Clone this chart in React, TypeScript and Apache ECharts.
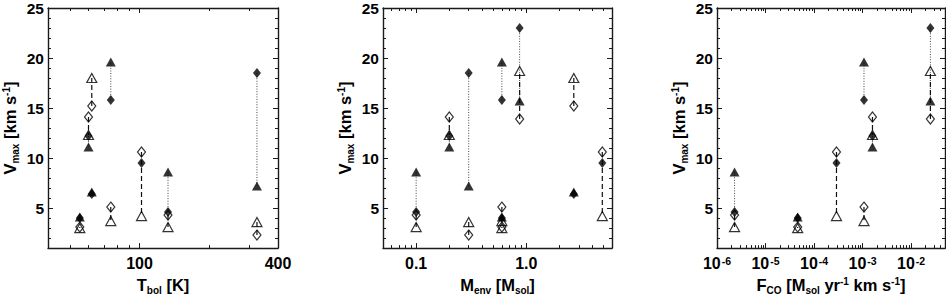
import React, { useEffect, useRef } from 'react';
import * as echarts from 'echarts';

// Eight sources; null = not measured / not shown in that panel
const tbol: (number | null)[] = [55, 60, 62, 75, 102, 133, 324, null];
const menv: (number | null)[] = [0.6, 0.2, 2.7, 0.6, 4.9, 0.1, 0.3, 0.87];
const fco: (number | null)[] = [4.6e-5, 1.6e-3, null, 1.07e-3, 2.9e-4, 2.3e-6, null, 0.025];

const filledDiamond: (number | null)[] = [4.0, 12.2, 6.4, 15.8, 9.5, 4.6, 18.5, 23.0];
const filledTriangle: (number | null)[] = [4.1, 11.1, 6.6, 19.6, null, 8.6, 7.2, 15.7];
const openDiamond: (number | null)[] = [3.1, 14.1, 15.2, 5.1, 10.6, 4.3, 2.3, 13.9];
const openTriangle: (number | null)[] = [3.0, 12.3, 18.0, 3.7, 4.2, 3.1, 3.6, 18.7];

const yMajorTicks = [5, 10, 15, 20, 25];
const yMinorTicks = [2, 3, 4, 6, 7, 8, 9, 11, 12, 13, 14, 16, 17, 18, 19, 21, 22, 23, 24];

const tbolMajorTicks = [100, 400];
const tbolMinorTicks = [50, 60, 70, 80, 90, 200, 300];
const menvMajorTicks = [0.1, 1.0];
const menvMinorTicks = [0.06, 0.07, 0.08, 0.09, 0.2, 0.3, 0.4, 0.5, 0.6, 0.7, 0.8, 0.9, 2, 3, 4, 5, 6];
const fcoMajorTicks = [1e-6, 1e-5, 1e-4, 1e-3, 1e-2];
const fcoMinorTicks: number[] = [];
for (const dec of [1e-6, 1e-5, 1e-4, 1e-3, 1e-2]) {
  for (let m = 2; m <= 9; m++) {
    const v = m * dec;
    if (v <= 0.05 + 1e-12) fcoMinorTicks.push(v);
  }
}

const FONT = '"Liberation Sans", Arial, Helvetica, sans-serif';
const AXIS_COLOR = '#1a1a1a';

const richTitle = {
  n: { fontSize: 16.5, fontWeight: 'bold', fontFamily: FONT, color: '#000' },
  sub: { fontSize: 10, fontWeight: 'bold', fontFamily: FONT, color: '#000', verticalAlign: 'bottom', padding: [0, 0, -2, 0] },
  sup: { fontSize: 10, fontWeight: 'bold', fontFamily: FONT, color: '#000', verticalAlign: 'top' },
};

const richLabel = {
  b: { fontSize: 16, fontWeight: 'bold', fontFamily: FONT, color: '#000' },
  s: { fontSize: 10.5, fontWeight: 'bold', fontFamily: FONT, color: '#000', verticalAlign: 'top', padding: [0, 0, 4, 1] },
};

const panels = [
  {
    x: tbol, min: 40, max: 400, major: tbolMajorTicks, minor: tbolMinorTicks,
    fmt: (v: number) => `{b|${Math.round(v)}}`,
    name: '{n|T}{sub|bol}{n| [K]}', left: 47, width: 231,
  },
  {
    x: menv, min: 0.05, max: 6, major: menvMajorTicks, minor: menvMinorTicks,
    fmt: (v: number) => `{b|${v.toFixed(1)}}`,
    name: '{n|M}{sub|env}{n| [M}{sub|sol}{n|]}', left: 383, width: 229,
  },
  {
    x: fco, min: 1e-6, max: 0.05, major: fcoMajorTicks, minor: fcoMinorTicks,
    fmt: (v: number) => `{b|10}{s|${Math.round(Math.log10(v))}}`,
    name: '{n|F}{sub|CO}{n| [M}{sub|sol}{n| yr}{sup|-1}{n| km s}{sup|-1}{n|]}', left: 717, width: 228,
  },
];

function buildOption() {
  const grid: any[] = [];
  const xAxis: any[] = [];
  const yAxis: any[] = [];
  const series: any[] = [];

  panels.forEach((p, i) => {
    grid.push({ left: p.left, top: 2, width: p.width, height: 257, containLabel: false });
    const xBase = {
      type: 'log', logBase: 10, min: p.min, max: p.max, gridIndex: i,
      splitLine: { show: false }, axisPointer: { show: false },
    };
    const lineOn = { show: true, onZero: false, lineStyle: { color: AXIS_COLOR, width: 1.4 } };
    const lineOff = { show: false };
    xAxis.push({
      ...xBase, position: 'bottom', axisLine: lineOn,
      axisTick: { show: true, inside: true, length: 5, customValues: p.major, lineStyle: { color: AXIS_COLOR, width: 1 } },
      axisLabel: { show: true, customValues: p.major, margin: 7, formatter: p.fmt, rich: richLabel, hideOverlap: false, showMaxLabel: true, showMinLabel: true },
      name: p.name, nameLocation: 'middle', nameGap: 27,
      nameTextStyle: { rich: richTitle },
    });
    xAxis.push({
      ...xBase, position: 'bottom', axisLine: lineOff,
      axisTick: { show: true, inside: true, length: 3, customValues: p.minor, lineStyle: { color: AXIS_COLOR, width: 1 } },
      axisLabel: { show: false },
    });
    xAxis.push({
      ...xBase, position: 'top', axisLine: lineOn,
      axisTick: { show: true, inside: true, length: 5, customValues: p.major, lineStyle: { color: AXIS_COLOR, width: 1 } },
      axisLabel: { show: false },
    });
    xAxis.push({
      ...xBase, position: 'top', axisLine: lineOff,
      axisTick: { show: true, inside: true, length: 3, customValues: p.minor, lineStyle: { color: AXIS_COLOR, width: 1 } },
      axisLabel: { show: false },
    });

    const yBase = {
      type: 'value', min: 1, max: 25, gridIndex: i,
      splitLine: { show: false }, axisPointer: { show: false },
    };
    yAxis.push({
      ...yBase, position: 'left', axisLine: lineOn,
      axisTick: { show: true, inside: true, length: 5, customValues: yMajorTicks, lineStyle: { color: AXIS_COLOR, width: 1 } },
      axisLabel: { show: true, customValues: yMajorTicks, margin: 4, fontSize: 15.5, fontWeight: 'bold', fontFamily: FONT, color: '#000' },
      name: '{n|V}{sub|max}{n| [km s}{sup|-1}{n|]}', nameLocation: 'middle', nameGap: 30, nameRotate: 90,
      nameTextStyle: { rich: richTitle },
    });
    yAxis.push({
      ...yBase, position: 'left', axisLine: lineOff,
      axisTick: { show: true, inside: true, length: 3, customValues: yMinorTicks, lineStyle: { color: AXIS_COLOR, width: 1 } },
      axisLabel: { show: false },
    });
    yAxis.push({
      ...yBase, position: 'right', axisLine: lineOn,
      axisTick: { show: true, inside: true, length: 5, customValues: yMajorTicks, lineStyle: { color: AXIS_COLOR, width: 1 } },
      axisLabel: { show: false },
    });
    yAxis.push({
      ...yBase, position: 'right', axisLine: lineOff,
      axisTick: { show: true, inside: true, length: 3, customValues: yMinorTicks, lineStyle: { color: AXIS_COLOR, width: 1 } },
      axisLabel: { show: false },
    });

    const xi = i * 4;
    const yi = i * 4;

    const pairs = (a: (number | null)[], b: (number | null)[]) => {
      const out: number[][] = [];
      p.x.forEach((xv, k) => {
        if (xv != null && a[k] != null && b[k] != null) out.push([xv, a[k] as number, b[k] as number]);
      });
      return out;
    };
    const pts = (a: (number | null)[]) => {
      const out: number[][] = [];
      p.x.forEach((xv, k) => {
        if (xv != null && a[k] != null) out.push([xv, a[k] as number]);
      });
      return out;
    };
    const segRender = (dash: number[], color: string, w: number) => (params: any, api: any) => {
      const p1 = api.coord([api.value(0), api.value(1)]);
      const p2 = api.coord([api.value(0), api.value(2)]);
      return {
        type: 'line',
        shape: { x1: p1[0], y1: p1[1], x2: p2[0], y2: p2[1] },
        style: { stroke: color, lineWidth: w, lineDash: dash, fill: null },
      };
    };

    series.push({
      type: 'custom', xAxisIndex: xi, yAxisIndex: yi, z: 1, silent: true,
      encode: { x: 0, y: [1, 2] },
      data: pairs(filledDiamond, filledTriangle),
      renderItem: segRender([1, 1.6], '#444', 1),
    });
    series.push({
      type: 'custom', xAxisIndex: xi, yAxisIndex: yi, z: 1, silent: true,
      encode: { x: 0, y: [1, 2] },
      data: pairs(openDiamond, openTriangle),
      renderItem: segRender([5, 3], '#111', 1.2),
    });
    const openStyle = { color: 'rgba(0,0,0,0)', borderColor: '#000', borderWidth: 1.2 };
    const filledStyle = { color: '#000', borderColor: '#000', borderWidth: 0 };
    series.push({
      type: 'scatter', xAxisIndex: xi, yAxisIndex: yi, z: 3, silent: true,
      symbol: 'triangle', symbolSize: [10, 9], itemStyle: openStyle, data: pts(openTriangle),
    });
    series.push({
      type: 'scatter', xAxisIndex: xi, yAxisIndex: yi, z: 3, silent: true,
      symbol: 'diamond', symbolSize: [8, 10], itemStyle: openStyle, data: pts(openDiamond),
    });
    series.push({
      type: 'scatter', xAxisIndex: xi, yAxisIndex: yi, z: 4, silent: true,
      symbol: 'triangle', symbolSize: [10, 9], itemStyle: filledStyle, data: pts(filledTriangle),
    });
    series.push({
      type: 'scatter', xAxisIndex: xi, yAxisIndex: yi, z: 4, silent: true,
      symbol: 'diamond', symbolSize: [8, 10], itemStyle: filledStyle, data: pts(filledDiamond),
    });
  });

  return {
    animation: false,
    backgroundColor: '#ffffff',
    textStyle: { fontFamily: FONT },
    grid, xAxis, yAxis, series,
  };
}

export default function App() {
  const ref = useRef<HTMLDivElement>(null);
  useEffect(() => {
    if (!ref.current) return;
    const chart = echarts.init(ref.current, undefined, { renderer: 'svg' });
    chart.setOption(buildOption() as any);
    return () => chart.dispose();
  }, []);
  return (
    <div
      ref={ref}
      style={{ position: 'absolute', left: 0, top: 0, width: 946, height: 300, background: '#fff' }}
    />
  );
}
